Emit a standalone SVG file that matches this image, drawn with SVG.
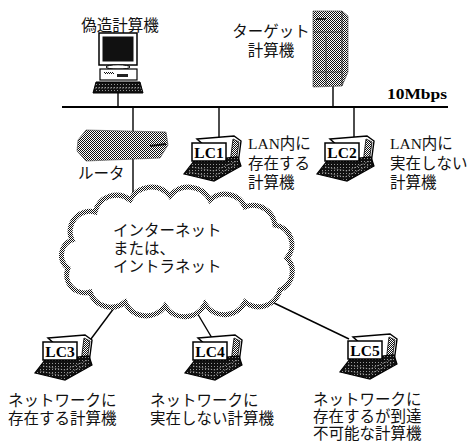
<svg xmlns="http://www.w3.org/2000/svg" width="467" height="443" viewBox="0 0 467 443">
  <style>
    .jp { font-family: "Noto Sans CJK JP", "Noto Sans", sans-serif; font-size: 15.5px; fill: #111; }
    .lat { font-family: "Liberation Serif", serif; }
    .lc { font-family: "Liberation Serif", serif; font-weight: bold; font-size: 15.5px; text-anchor: middle; fill: #000; }
    .wire { stroke: #000; stroke-width: 1.4; fill: none; }
    .box { fill: #fff; stroke: #000; stroke-width: 1.5; }
    .dots { fill: url(#dots); stroke: #444; stroke-width: 0.6; }
  </style>
  <defs>
    <!-- dithered gray used for hardware bodies and the cloud outline -->
    <pattern id="dots" width="2" height="2" patternUnits="userSpaceOnUse">
      <rect width="2" height="2" fill="#fff"/>
      <rect width="1" height="1" fill="#111"/>
      <rect x="1" y="1" width="1" height="1" fill="#111"/>
    </pattern>
    <pattern id="keys" width="3" height="3" patternUnits="userSpaceOnUse">
      <rect width="3" height="3" fill="#111"/>
      <rect width="1" height="1" fill="#999"/>
    </pattern>
    <!-- notebook PC drawn around its label box (box top-left at 0,0) -->
    <g id="laptop">
      <polygon points="5,-4 42,-7 49,-2 46,21 36,23" fill="#fff" stroke="#000" stroke-width="1.4"/>
      <polygon points="41,-4 47,-1 44,19 38,20" fill="url(#dots)" stroke="#000" stroke-width="0.8"/>
      <polygon points="2,18 46,14 49,23 22,38 -8,31" fill="url(#keys)" stroke="#000" stroke-width="1.2"/>
      <polyline points="-3,29 20,34 44,22" fill="none" stroke="#aaa" stroke-width="0.8" stroke-dasharray="1.5 1.5"/>
      <polyline points="0,24 22,28 45,18" fill="none" stroke="#aaa" stroke-width="0.8" stroke-dasharray="1.5 1.5"/>
      <rect x="0" y="0" width="34" height="18" class="box"/>
    </g>
  </defs>

  <rect width="467" height="443" fill="#fff"/>

  <!-- connectors -->
  <g id="connectors">
    <line x1="62" y1="107" x2="448" y2="107" stroke="#000" stroke-width="2"/>
    <line x1="118" y1="92" x2="118" y2="107" class="wire"/>
    <line x1="333" y1="86" x2="333" y2="107" class="wire"/>
    <line x1="133" y1="107" x2="133" y2="199" class="wire"/>
    <line x1="219" y1="107" x2="219" y2="140" class="wire"/>
    <line x1="354" y1="107" x2="354" y2="140" class="wire"/>
    <line x1="120" y1="300" x2="88" y2="343" class="wire"/>
    <line x1="190" y1="301" x2="212" y2="338" class="wire"/>
    <line x1="247" y1="290" x2="349" y2="339" class="wire"/>
  </g>

  <text x="447" y="99" text-anchor="end" class="lat" font-weight="bold" font-size="15" textLength="60" lengthAdjust="spacingAndGlyphs">10Mbps</text>

  <!-- spoofing desktop PC -->
  <g id="fake-pc">
    <text x="120" y="31" class="jp" font-size="16.5" text-anchor="middle">偽造計算機</text>
    <rect x="99" y="33" width="38" height="32" class="box"/>
    <rect x="102.5" y="36.5" width="31" height="25" fill="#111"/>
    <ellipse cx="118" cy="67" rx="12" ry="2.2" fill="#fff" stroke="#000" stroke-width="1"/>
    <rect x="100" y="69" width="37" height="11" fill="#fff" stroke="#000" stroke-width="1.2"/>
    <rect x="104" y="72" width="10" height="2" fill="url(#dots)"/>
    <rect x="117" y="74" width="11" height="3" fill="#222"/>
    <polygon points="96,82 140,82 143,93 93,93" fill="url(#keys)" stroke="#000" stroke-width="1"/>
    <line x1="95" y1="88" x2="141" y2="88" stroke="#aaa" stroke-width="0.8" stroke-dasharray="1.5 1.5"/>
  </g>

  <!-- target server -->
  <g id="target">
    <text x="271" y="37" class="jp" font-size="15" text-anchor="middle">ターゲット</text>
    <text x="271" y="56" class="jp" font-size="15" text-anchor="middle">計算機</text>
    <polygon points="313,11 342,11 348,16 348,72 342,86 313,87" class="dots"/>
    <polyline points="342,11 342,86" fill="none" stroke="#222" stroke-width="0.8"/>
    <line x1="313" y1="32" x2="342" y2="32" stroke="#222" stroke-width="0.6"/>
    <line x1="326" y1="36" x2="326" y2="86" stroke="#222" stroke-width="0.6"/>
    <line x1="313" y1="72" x2="342" y2="72" stroke="#222" stroke-width="0.6"/>
    <rect x="316" y="18" width="10" height="2" fill="#222"/>
  </g>

  <!-- router -->
  <g id="router">
    <polygon points="78,140 86,130 166,132 168,145 160,158 86,161 77,151" class="dots"/>
    <line x1="150" y1="146" x2="166" y2="144" stroke="#111" stroke-width="2"/>
    <text x="78" y="179" class="jp" font-size="14.5">ルータ</text>
  </g>

  <!-- LAN node 1 -->
  <g id="lc1">
    <use href="#laptop" x="192" y="143"/>
    <text x="209" y="157.5" class="lc">LC1</text>
    <text class="jp" x="248"><tspan x="248" y="149"><tspan class="lat">LAN</tspan>内に</tspan><tspan x="248" y="169">存在する</tspan><tspan x="248" y="188">計算機</tspan></text>
  </g>

  <!-- LAN node 2 -->
  <g id="lc2">
    <use href="#laptop" x="325" y="143"/>
    <text x="342" y="157.5" class="lc">LC2</text>
    <text class="jp" x="390"><tspan x="390" y="149"><tspan class="lat">LAN</tspan>内に</tspan><tspan x="390" y="169">実在しない</tspan><tspan x="390" y="188">計算機</tspan></text>
  </g>

  <!-- internet / intranet cloud -->
  <g id="cloud">
    <path d="M72,240 A20,20 0 0 1 95,212 A22,22 0 0 1 130,200 A24,24 0 0 1 170,196 A24,24 0 0 1 210,200 A22,22 0 0 1 245,207 A22,22 0 0 1 275,225 A20,20 0 0 1 287,258 A20,20 0 0 1 280,290 A22,22 0 0 1 245,302 A23,23 0 0 1 205,304 A23,23 0 0 1 165,306 A23,23 0 0 1 125,302 A22,22 0 0 1 90,292 A18,18 0 0 1 68,268 A16,16 0 0 1 72,240 Z" fill="#fff" stroke="url(#dots)" stroke-width="5"/>
    <text class="jp" font-size="14.5"><tspan x="113" y="236">インターネット</tspan><tspan x="113" y="254">または、</tspan><tspan x="113" y="272">イントラネット</tspan></text>
  </g>

  <!-- remote node 3 -->
  <g id="lc3">
    <use href="#laptop" x="43" y="342"/>
    <text x="60" y="356.5" class="lc">LC3</text>
    <text class="jp"><tspan x="8" y="406">ネットワークに</tspan><tspan x="8" y="424">存在する計算機</tspan></text>
  </g>

  <!-- remote node 4 -->
  <g id="lc4">
    <use href="#laptop" x="193" y="342"/>
    <text x="210" y="356.5" class="lc">LC4</text>
    <text class="jp"><tspan x="150" y="406">ネットワークに</tspan><tspan x="150" y="424">実在しない計算機</tspan></text>
  </g>

  <!-- remote node 5 -->
  <g id="lc5">
    <use href="#laptop" x="348" y="341"/>
    <text x="365" y="355.5" class="lc">LC5</text>
    <text class="jp"><tspan x="313" y="405">ネットワークに</tspan><tspan x="313" y="422">存在するが到達</tspan><tspan x="313" y="439">不可能な計算機</tspan></text>
  </g>
</svg>
